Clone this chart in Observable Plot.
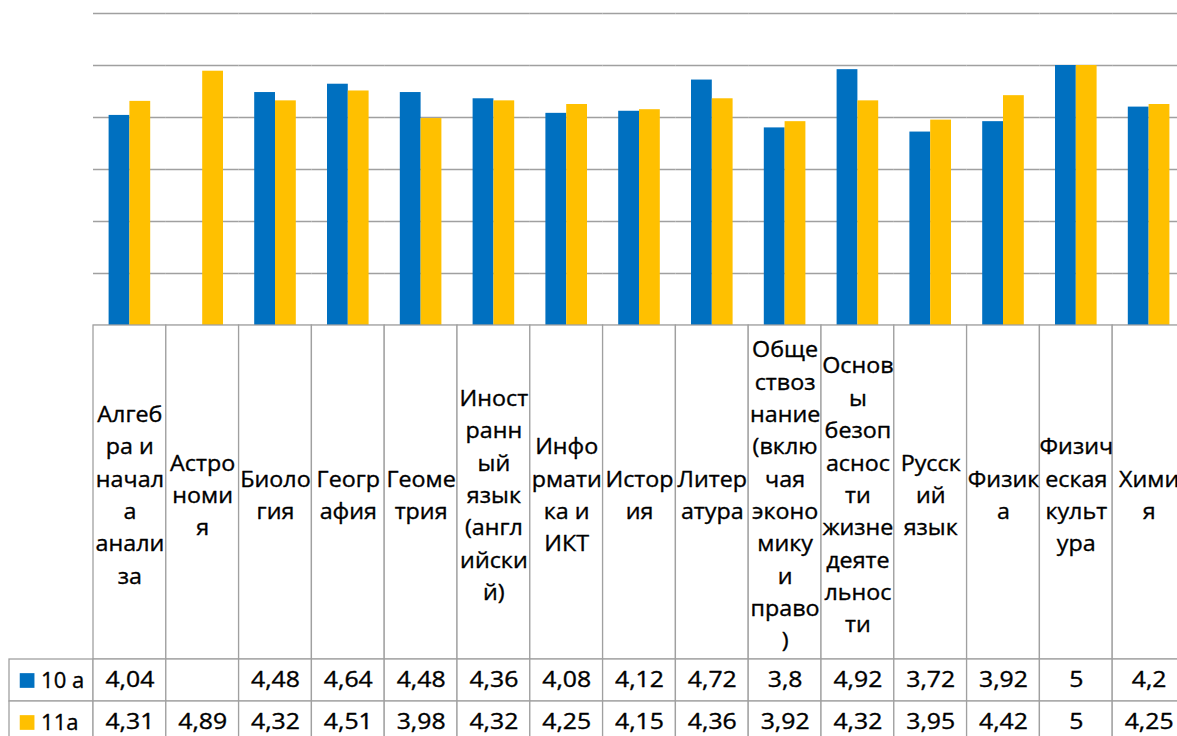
<!DOCTYPE html>
<html>
<head>
<meta charset="utf-8">
<script src="https://cdn.jsdelivr.net/npm/d3@7"></script>
<script src="https://cdn.jsdelivr.net/npm/@observablehq/plot@0.6"></script>
<style>
  html, body { margin: 0; padding: 0; background: #fff; overflow: hidden; }
  #wrap { width: 1185px; }
  #wrap svg { display: block; }
</style>
</head>
<body>
<div id="wrap"></div>
<script>
// ---- data ----
const subjects = [
  "Алгебра и начала анализа", "Астрономия", "Биология", "География", "Геометрия",
  "Иностранный язык (английский)", "Информатика и ИКТ", "История", "Литература",
  "Обществознание (включая экономику и право)", "Основы безопасности жизнедеятельности",
  "Русский язык", "Физика", "Физическая культура", "Химия"
];
// header labels as wrapped in the reference table
const subjectLabels = [
  "Алгеб\nра и\nначал\nа\nанали\nза",
  "Астро\nноми\nя",
  "Биоло\nгия",
  "Геогр\nафия",
  "Геоме\nтрия",
  "Иност\nранн\nый\nязык\n(англ\nийски\nй)",
  "Инфо\nрмати\nка и\nИКТ",
  "Истор\nия",
  "Литер\nатура",
  "Обще\nствоз\nнание\n(вклю\nчая\nэконо\nмику\nи\nправо\n)",
  "Основ\nы\nбезоп\nаснос\nти\nжизне\nдеяте\nльнос\nти",
  "Русск\nий\nязык",
  "Физик\nа",
  "Физич\nеская\nкульт\nура",
  "Хими\nя"
];
const classes = ["10 а", "11а"];
const values10a = [4.04, null, 4.48, 4.64, 4.48, 4.36, 4.08, 4.12, 4.72, 3.8, 4.92, 3.72, 3.92, 5, 4.2];
const values11a = [4.31, 4.89, 4.32, 4.51, 3.98, 4.32, 4.25, 4.15, 4.36, 3.92, 4.32, 3.95, 4.42, 5, 4.25];
const yTicks = [0, 1, 2, 3, 4, 5, 6];
const colors = ["#0070C0", "#FFC000"];

// ---- derived table ----
const seriesValues = [values10a, values11a];
const rows = [];
classes.forEach((c, k) => subjects.forEach((s, i) => rows.push({subject: s, cls: c, value: seriesValues[k][i]})));
const fmt = v => v == null ? "" : String(v).replace(".", ",");

// ---- layout constants ----
const W = 1185;
const LEFT = 93;
const colW = (W - LEFT) / subjects.length;
const gridColor = "#a0a0a0";
const font = "'Open Sans', 'Noto Sans', sans-serif";
const fs = 22;
const ink = {fill: "#000", stroke: "#000", strokeWidth: 0.35, paintOrder: "stroke"};
const wrap = document.getElementById("wrap");

// widen text horizontally around Plot's own anchor point
function widen(svg, groupIndex, k) {
  const groups = svg.querySelectorAll('g[aria-label="text"]');
  const g = groups[groupIndex < 0 ? groups.length + groupIndex : groupIndex];
  g.querySelectorAll("text").forEach(t => {
    const tr = t.getAttribute("transform");
    if (tr) {
      t.setAttribute("transform", tr + ` scale(${k},1)`);
    } else {
      const x = +t.getAttribute("x") || 0, y = +t.getAttribute("y") || 0;
      t.removeAttribute("x"); t.removeAttribute("y");
      t.setAttribute("transform", `translate(${x},${y}) scale(${k},1)`);
    }
  });
}

// ---- chart ----
const chart = Plot.plot({
  width: W,
  height: 325,
  marginTop: 13,
  marginBottom: 0,
  marginLeft: LEFT,
  marginRight: 0,
  style: {fontFamily: font, background: "white"},
  fx: {domain: subjects, padding: 0, round: false, axis: null},
  x: {domain: classes, paddingInner: 0, paddingOuter: 0.75, round: false, axis: null},
  y: {domain: [0, 6], axis: null},
  color: {domain: classes, range: colors},
  marks: [
    Plot.ruleY(yTicks, {stroke: gridColor, strokeWidth: 1.3}),
    Plot.barY(rows, {fx: "subject", x: "cls", y: "value", fill: "cls"})
  ]
});
wrap.appendChild(chart);

// ---- table header (category axis) ----
const header = Plot.plot({
  width: W,
  height: 334,
  marginTop: 0,
  marginBottom: 0,
  marginLeft: LEFT,
  marginRight: 0,
  style: {fontFamily: font, background: "white", overflow: "visible"},
  x: {domain: subjects, padding: 0, round: false, axis: null},
  marks: [
    Plot.cell(subjects, {x: d => d, fill: "white", stroke: gridColor, strokeWidth: 1.3}),
    Plot.text(subjects, {x: d => d, text: (d, i) => subjectLabels[i], frameAnchor: "middle",
      fontSize: fs, lineHeight: 1.47, ...ink})
  ]
});
wrap.appendChild(header);
widen(header, -1, 1.06);

// ---- table data rows with legend column ----
const legendKey = "__legend";
const legendCells = classes.map(c => ({x: legendKey, cls: c}));
const data = Plot.plot({
  width: W,
  height: 84,
  marginTop: 0,
  marginBottom: 0,
  marginLeft: LEFT - colW,
  marginRight: 0,
  style: {fontFamily: font, background: "white", overflow: "visible"},
  x: {domain: [legendKey, ...subjects], padding: 0, round: false, axis: null},
  y: {domain: classes, padding: 0, round: false, axis: null},
  color: {domain: classes, range: colors},
  marks: [
    Plot.cell(legendCells, {x: "x", y: "cls", fill: "white", stroke: gridColor, strokeWidth: 1.3, insetLeft: -(LEFT - colW - 9)}),
    Plot.cell(rows, {x: "subject", y: "cls", fill: "white", stroke: gridColor, strokeWidth: 1.3}),
    Plot.dot(classes, {x: () => legendKey, y: d => d, fill: d => d, symbol: "square", r: 8.3, dx: -30}),
    Plot.text(classes, {x: () => legendKey, y: d => d, text: d => d, textAnchor: "start", dx: -16, fontSize: fs, ...ink}),
    Plot.text(rows, {x: "subject", y: "cls", text: d => fmt(d.value), fontSize: 21, ...ink})
  ]
});
wrap.appendChild(data);
widen(data, -1, 1.18);
</script>
</body>
</html>
